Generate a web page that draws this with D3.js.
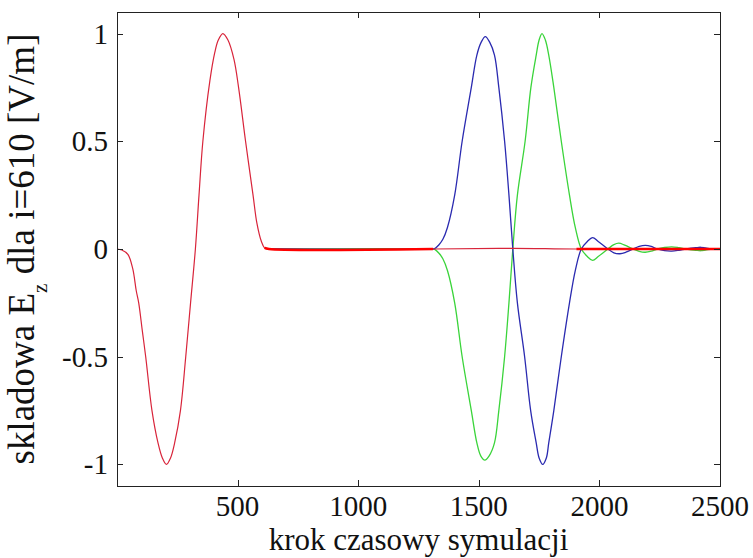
<!DOCTYPE html>
<html>
<head>
<meta charset="utf-8">
<script src="https://cdn.jsdelivr.net/npm/d3@7"></script>
<style>
    html, body { margin: 0; padding: 0; background: #fff; }
    .frame { fill: none; stroke: #222; stroke-width: 1; }
    .tick-line { stroke: #222; stroke-width: 1; }
    .trace { fill: none; stroke-linejoin: round; }
</style>
</head>
<body>
<div id="chart"></div>
<script>
// sample points: [time step, Ez]
var redTrace = [
    [0, 0], [20, -0.005], [45, -0.025], [65, -0.09], [80, -0.195], [90, -0.25],
    [105, -0.38], [119, -0.5], [145, -0.75], [170, -0.9], [188, -0.97], [205, -1.0],
    [222, -0.97], [239, -0.9], [263, -0.75], [285, -0.5], [305, -0.25], [325, 0],
    [340, 0.25], [356, 0.5], [385, 0.78], [405, 0.91], [420, 0.97], [439, 1.0],
    [460, 0.97], [485, 0.88], [504, 0.75], [533, 0.5], [564, 0.25], [580, 0.12],
    [598, 0.037], [612, 0.005], [630, 0], [1310, 0], [1640, 0.003], [1905, 0], [2500, 0]
];

var blueTrace = [
    [630, 0], [1300, 0], [1317, 0.002], [1335, 0.02], [1351, 0.045], [1370, 0.1],
    [1400, 0.25], [1431, 0.5], [1469, 0.75], [1492, 0.9], [1510, 0.96], [1527, 0.986],
    [1545, 0.96], [1565, 0.9], [1583, 0.75], [1607, 0.5], [1625, 0.25], [1641, 0],
    [1660, -0.25], [1690, -0.5], [1715, -0.75], [1738, -0.9], [1750, -0.97], [1765, -1.0],
    [1780, -0.97], [1790, -0.9], [1811, -0.75], [1842, -0.5], [1876, -0.25], [1900, -0.1],
    [1925, 0], [1950, 0.035], [1972, 0.053], [1995, 0.035], [2035, 0], [2060, -0.018],
    [2085, -0.022], [2110, -0.015], [2140, 0], [2165, 0.012], [2190, 0.017], [2215, 0.012],
    [2240, 0], [2270, -0.008], [2300, -0.01], [2330, -0.006], [2360, 0], [2400, 0.006],
    [2420, 0.008], [2440, 0.005], [2470, 0], [2500, 0]
];

var greenTrace = [
    [630, 0], [1300, 0], [1317, -0.002], [1335, -0.02], [1351, -0.045], [1370, -0.1],
    [1400, -0.25], [1431, -0.5], [1469, -0.75], [1492, -0.9], [1508, -0.96], [1525, -0.98],
    [1543, -0.96], [1565, -0.9], [1583, -0.75], [1607, -0.5], [1625, -0.25], [1641, 0],
    [1660, 0.25], [1692, 0.5], [1716, 0.75], [1738, 0.9], [1750, 0.97], [1762, 1.0],
    [1776, 0.97], [1790, 0.9], [1811, 0.75], [1842, 0.5], [1876, 0.25], [1900, 0.1],
    [1925, 0], [1950, -0.035], [1972, -0.053], [1995, -0.035], [2035, 0], [2060, 0.02],
    [2080, 0.027], [2105, 0.018], [2140, 0], [2165, -0.011], [2190, -0.015], [2215, -0.01],
    [2240, 0], [2270, 0.007], [2300, 0.01], [2330, 0.006], [2360, 0], [2400, -0.006],
    [2420, -0.008], [2440, -0.005], [2470, 0], [2500, 0]
];

// stretches where the red trace looks heavier in the figure
var redHeavy = [[612, 1310], [1905, 2500]];

var xTicks = [500, 1000, 1500, 2000, 2500];
var yTicks = [-1, -0.5, 0, 0.5, 1];
var xDomain = [0, 2500];
var yDomain = [-1.1, 1.1];

var xTitle = 'krok czasowy symulacji';
var yTitle = ['skladowa E', 'z', ' dla i=610 [V/m]'];

(function (d3) {
    'use strict';

    var width = 753, height = 558;
    var margin = {top: 12, right: 33, bottom: 72, left: 117};
    var w = width - margin.left - margin.right;
    var h = height - margin.top - margin.bottom;
    var tickLen = 6;
    var serif = "'Liberation Serif', 'Times New Roman', serif";

    var svg = d3.select('#chart').append('svg')
        .attr('width', width)
        .attr('height', height)
    ;

    svg.append('rect').attr('width', width).attr('height', height).attr('fill', '#fff');

    var x = d3.scaleLinear().domain(xDomain).range([0, w]);
    var y = d3.scaleLinear().domain(yDomain).range([h, 0]);

    var plot = svg.append('g').attr('transform', translate(margin.left, margin.top));

    var line = d3.line()
        .x(function (d) { return x(d[0]); })
        .y(function (d) { return y(d[1]); })
        .curve(d3.curveCatmullRom.alpha(0.5))
    ;

    plot.append('path').datum(greenTrace).attr('class', 'trace')
        .attr('stroke', '#3ad43a').attr('stroke-width', 1.3).attr('d', line);
    plot.append('path').datum(blueTrace).attr('class', 'trace')
        .attr('stroke', '#2a2ab0').attr('stroke-width', 1.3).attr('d', line);
    plot.append('path').datum(redTrace).attr('class', 'trace')
        .attr('stroke', '#d8243a').attr('stroke-width', 1.2).attr('d', line);

    redHeavy.forEach(function (r) {
        var seg = redTrace.filter(function (d) { return d[0] >= r[0] && d[0] <= r[1]; });
        plot.append('path').datum(seg).attr('class', 'trace')
            .attr('stroke', '#f00').attr('stroke-width', 2.6).attr('d', line);
    });

    // box and inward ticks on all four sides, MATLAB style
    plot.append('rect').attr('class', 'frame')
        .attr('x', 0.5).attr('y', 0.5).attr('width', w).attr('height', h);

    xTicks.forEach(function (t) {
        var px = Math.round(x(t)) + 0.5;
        plot.append('line').attr('class', 'tick-line')
            .attr('x1', px).attr('x2', px).attr('y1', h).attr('y2', h - tickLen);
        plot.append('line').attr('class', 'tick-line')
            .attr('x1', px).attr('x2', px).attr('y1', 0).attr('y2', tickLen);
        label(plot, 29)
            .attr('x', x(t)).attr('y', h + 30)
            .attr('text-anchor', 'middle')
            .text(t);
    });

    yTicks.forEach(function (t) {
        var py = Math.round(y(t)) + 0.5;
        plot.append('line').attr('class', 'tick-line')
            .attr('x1', 0).attr('x2', tickLen).attr('y1', py).attr('y2', py);
        plot.append('line').attr('class', 'tick-line')
            .attr('x1', w).attr('x2', w - tickLen).attr('y1', py).attr('y2', py);
        label(plot, 29)
            .attr('x', -9).attr('y', y(t) + 10)
            .attr('text-anchor', 'end')
            .text(t);
    });

    label(svg, 31)
        .attr('x', margin.left + w / 2).attr('y', 550)
        .attr('text-anchor', 'middle')
        .text(xTitle);

    var yt = label(svg, 37)
        .attr('transform', translate(34, margin.top + h / 2) + ' rotate(-90)')
        .attr('text-anchor', 'middle');
    yt.append('tspan').text(yTitle[0]);
    yt.append('tspan').attr('dy', 13).style('font-size', '21px').text(yTitle[1]);
    yt.append('tspan').attr('dy', -13).text(yTitle[2]);

    function label(parent, size) {
        return parent.append('text')
            .style('font-family', serif)
            .style('font-size', size + 'px')
            .attr('fill', '#111');
    }

    function translate(a, b) {
        return 'translate(' + a + ', ' + b + ')';
    }
})(d3);
</script>
</body>
</html>
